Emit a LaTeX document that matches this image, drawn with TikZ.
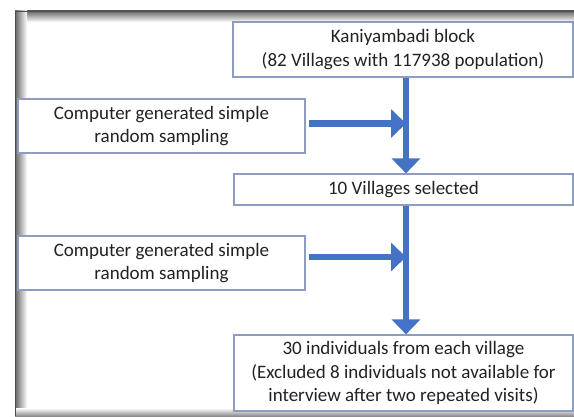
\documentclass[tikz,border=0pt]{standalone}
\usepackage{fontspec}
\setmainfont{Carlito}
\usetikzlibrary{arrows.meta}
\definecolor{boxline}{HTML}{8C9DBF}
\definecolor{flowblue}{HTML}{4472C4}
\definecolor{inktext}{HTML}{222222}
\tikzset{
  stage/.style={draw=boxline, line width=1.2pt, fill=white, inner sep=0pt,
    align=center, text=inktext, font=\fontsize{19}{23.5}\selectfont},
  flow/.style={draw=flowblue, line width=6.5pt,
    -{Triangle[width=28pt,length=15pt]}, flowblue},
}
\begin{document}
\begin{tikzpicture}[x={(1pt,0)}, y={(0,-1pt)}]
  \useasboundingbox (0,0) rectangle (574,417);
  % inner shadow of the surrounding frame
  \shade[top color=black!60, bottom color=white] (15,11) rectangle (574,22);
  \shade[left color=black!60, right color=white] (15,11) rectangle (27,416);
  \shade[bottom color=black!45, top color=white] (15,408) rectangle (574,416);
  \draw[black!70, line width=0.8pt] (15,416) -- (15,11) -- (574,11);

  % stages
  \node[stage, minimum width=340pt, minimum height=55pt] (top) at (403,49.5)
    {Kaniyambadi block\\(82 Villages with 117938 population)};
  \node[stage, minimum width=287pt, minimum height=54pt] (lb1) at (161.5,126)
    {Computer generated simple\\random sampling};
  \node[stage, minimum width=339pt, minimum height=31pt] (mid) at (403.5,189.5)
    {10 Villages selected};
  \node[stage, minimum width=287pt, minimum height=54pt] (lb2) at (161.5,263)
    {Computer generated simple\\random sampling};
  \node[stage, minimum width=339pt, minimum height=76pt] (bot) at (403.5,373)
    {30 individuals from each village\\(Excluded 8 individuals not available for\\interview after two repeated visits)};

  % connectors
  \coordinate (sx) at ([xshift=3pt]top.south);
  \coordinate (a1) at ([xshift=3pt,yshift=2.5pt]lb1.east);
  \coordinate (a2) at ([xshift=3pt,yshift=6pt]lb2.east);
  \draw[flow] (sx) -- (sx |- mid.north);
  \draw[flow] (sx |- mid.south) -- (sx |- bot.north);
  \draw[flow] (a1) -- (a1 -| sx);
  \draw[flow] (a2) -- (a2 -| sx);
\end{tikzpicture}
\end{document}
